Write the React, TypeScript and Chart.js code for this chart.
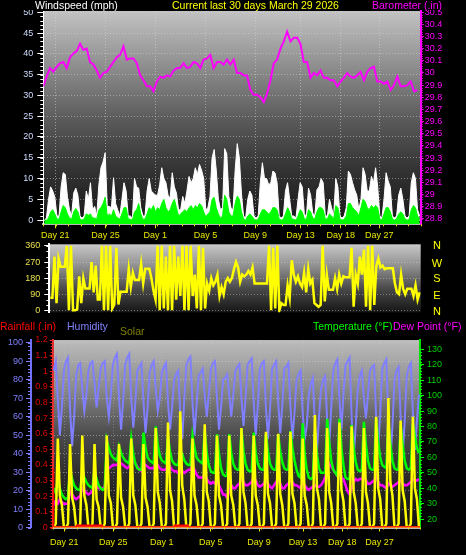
import React, { useEffect, useRef } from "react";
import { Chart, registerables } from "chart.js";

Chart.register(...registerables);

const FONT_AX = "'Liberation Sans Narrow', 'Arial Narrow', 'Liberation Sans', Arial, sans-serif";
const FONT_TXT = "'Liberation Sans', Arial, sans-serif";

// ---------- axis ticks ----------
const dayTickPositions = [0.95, 4.95, 8.9, 12.9, 16.85, 20.45, 23.65, 26.7];
const dayTickLabels = ["Day 21", "Day 25", "Day 1", "Day 5", "Day 9", "Day 13", "Day 18", "Day 27"];
const windTicks = [0, 5, 10, 15, 20, 25, 30, 35, 40, 45, 50];
const baroTicks = [28.8, 28.9, 29.0, 29.1, 29.2, 29.3, 29.4, 29.5, 29.6, 29.7, 29.8, 29.9, 30.0, 30.1, 30.2, 30.3, 30.4, 30.5];
const dirTicks = [0, 90, 180, 270, 360];
const dirLetters = ["N", "W", "S", "E", "N"];
const humTicks = [0, 10, 20, 30, 40, 50, 60, 70, 80, 90, 100];
const rainTicks = [0, 0.1, 0.2, 0.3, 0.4, 0.5, 0.6, 0.7, 0.8, 0.9, 1.0, 1.1, 1.2];
const tempTicks = [20, 30, 40, 50, 60, 70, 80, 90, 100, 110, 120, 130];

// ---------- series (30 days) ----------
const barometer = [
  29.89, 29.97, 30.04, 30.01, 30.05, 30.08, 30.09, 30.04, 30.13, 30.16,
  30.18, 30.24, 30.19, 30.20, 30.09, 30.07, 30.02, 29.96, 30.00, 30.01,
  30.05, 30.09, 30.13, 30.15, 30.22, 30.11, 30.12, 30.12, 30.08, 29.98,
  29.94, 29.89, 29.89, 29.85, 29.93, 29.97, 29.96, 29.98, 29.97, 30.02,
  30.04, 30.04, 30.08, 30.04, 30.05, 30.09, 30.08, 30.04, 30.11, 30.12,
  30.15, 30.04, 30.09, 30.09, 30.07, 30.11, 30.07, 30.11, 30.00, 30.00,
  29.98, 29.98, 29.86, 29.82, 29.82, 29.80, 29.76, 29.83, 29.94, 30.08,
  30.11, 30.20, 30.26, 30.34, 30.26, 30.29, 30.29, 30.24, 30.09, 30.09,
  29.96, 30.00, 29.98, 30.02, 29.96, 29.96, 29.94, 29.94, 29.89, 29.93,
  29.96, 30.00, 29.97, 29.96, 29.98, 30.01, 29.94, 30.01, 30.04, 30.05,
  29.93, 29.93, 29.91, 29.93, 29.86, 29.90, 29.97, 29.89, 29.89, 29.90,
  29.93, 29.85, 29.86,
];

const windGust = [
  0, 0.5, 5, 8, 7, 5.5, 1, 1, 8, 11.4,
  11, 5.7, 2.5, 1, 6.5, 7.7, 6, 1, 0.5, 1,
  7, 5, 9, 2.5, 3.3, 1, 8.5, 12.6, 14, 16.2,
  3.3, 3.3, 3, 10.2, 4, 2.5, 1, 5, 9, 7,
  1, 1, 0.5, 10, 8, 7.7, 3, 1, 1, 7,
  10, 7, 6.5, 6, 6, 8.5, 12.6, 10, 9, 6,
  5.3, 11.4, 8, 6.5, 2.5, 2.5, 5.7, 4, 7, 10.5,
  9, 10, 12.6, 11, 13.4, 12, 10, 2.5, 3, 5.7,
  15, 17, 12, 5, 2.5, 3, 17.2, 16, 5.7, 3,
  2.5, 12, 18.4, 15, 6.5, 1, 0.5, 5, 7, 6,
  1, 0.5, 1, 9, 13.8, 10, 10, 8.5, 9, 11.8,
  11.4, 9, 1, 0.5, 1, 7, 9, 5, 1, 1,
  0.5, 5, 9, 8, 1.5, 1, 7.7, 6, 1.7, 1,
  7.3, 8, 10, 9, 1, 1, 5, 3, 1, 10,
  8, 1, 0.5, 1, 3, 11.8, 11, 9, 7.3, 6,
  2.5, 5, 12.6, 11, 7, 7, 10.5, 9, 12.6, 8,
  1, 0.5, 5, 11.4, 9.4, 8, 1, 0.5, 1, 6,
  7.7, 5, 1, 0.5, 1, 9, 11.4, 10, 2.5, 1,
];

const windAvg = [
  0, 0, 0.5, 2, 2.5, 1.5, 0.3, 0.2, 2, 3.5,
  3, 1.5, 0.5, 0.2, 2, 2.8, 2, 0.2, 0, 0.3,
  1.5, 1.2, 1.5, 0.5, 0.5, 0.3, 2.5, 3, 4, 5.5,
  1, 1.5, 1, 2.5, 1, 0.5, 0.3, 1.5, 3, 3,
  0.3, 0.2, 0, 2, 2.5, 4, 1.5, 0.2, 0.3, 1.5,
  3, 2.5, 3.5, 2, 3, 2.5, 4, 5, 3, 2,
  2.5, 4, 5, 3, 1, 1.5, 2, 2.5, 2, 3,
  3.5, 2.5, 3.5, 3, 4, 3.5, 2, 0.8, 1.5, 2,
  5, 5.5, 3, 1.5, 0.5, 1, 6, 5, 2, 1,
  1, 4, 5.8, 5, 2, 0.3, 0, 1, 1.5, 1,
  0.2, 0, 0.2, 1.5, 2.5, 2.5, 2, 1.5, 2, 3,
  3, 2.5, 0.3, 0, 0.2, 1.5, 3, 2, 0.3, 0.2,
  0, 1, 2.5, 2, 0.3, 0.2, 2.5, 2, 0.5, 0.3,
  2, 3, 3, 2.5, 0.3, 0.3, 1.5, 1, 0.3, 3.5,
  3, 0.3, 0, 0.2, 1, 4, 4, 3, 2.5, 2,
  1, 3, 5, 4.5, 3, 2.5, 3.5, 3, 3.5, 3,
  0.3, 0, 1.5, 3, 3, 2, 0.3, 0, 0.3, 1.5,
  2, 1.5, 0.3, 0, 0.2, 2.5, 3.5, 3, 1, 0.3,
];

const windDirection = [
  70, 70, 300, 40, 290, 244, 244, 244, 360, 0,
  360, 0, 0, 5, 190, 40, 180, 122, 122, 122,
  270, 100, 250, 60, 60, 360, 0, 360, 0, 360,
  10, 33, 350, 33, 104, 104, 104, 104, 230, 130,
  210, 170, 170, 170, 260, 150, 233, 233, 233, 180,
  110, 60, 360, 0, 360, 10, 300, 0, 360, 0,
  360, 60, 300, 80, 360, 0, 360, 0, 360, 80,
  200, 10, 360, 0, 350, 10, 150, 110, 180, 140,
  160, 200, 80, 130, 90, 160, 180, 160, 180, 230,
  270, 240, 160, 200, 190, 200, 220, 200, 240, 150,
  150, 150, 150, 150, 150, 150, 360, 0, 350, 10,
  360, 0, 40, 30, 30, 140, 70, 280, 200, 160,
  190, 150, 130, 210, 100, 230, 150, 170, 40, 30,
  20, 30, 360, 50, 200, 115, 115, 115, 180, 120,
  200, 150, 190, 185, 185, 185, 350, 20, 200, 150,
  300, 200, 340, 20, 360, 0, 360, 30, 250, 290,
  240, 250, 230, 235, 235, 235, 235, 150, 100, 90,
  200, 120, 90, 120, 120, 120, 80, 140, 60, 100,
];

const temperature = [
  40, 37, 45, 40, 36, 34,  33, 34, 52, 46, 42, 40,  39, 39, 50, 47, 44, 42,
  41, 40, 52, 46, 42, 40,  39, 40, 71, 66, 62, 60,  59, 58, 67, 63, 60, 58,
  57, 56, 72, 62, 56, 53,  52, 52, 76, 66, 60, 58,  57, 56, 80, 68, 61, 58,
  57, 56, 73, 64, 58, 56,  55, 55, 65, 62, 58, 56,  55, 55, 74, 66, 60, 58,
  57, 56, 77, 63, 55, 51,  50, 50, 75, 62, 53, 49,  48, 48, 75, 63, 56, 53,
  52, 52, 78, 64, 56, 52,  51, 51, 76, 63, 56, 53,  52, 52, 75, 64, 56, 53,
  52, 52, 75, 64, 57, 53,  52, 52, 77, 66, 58, 52,  48, 47, 82, 62, 52, 47,
  46, 47, 76, 62, 53, 50,  50, 50, 85, 70, 58, 52,  50, 48, 85, 66, 55, 47,
  46, 46, 81, 66, 57, 52,  51, 52, 83, 68, 58, 53,  52, 52, 85, 70, 60, 55,
  54, 53, 83, 68, 58, 53,  52, 52, 81, 68, 58, 53,  52, 53, 82, 73, 66, 63,
];

const dewPoint = [
  32, 29, 30, 33, 31, 30,  30, 30, 38, 36, 34, 33,  34, 35, 40, 39, 37, 36,
  37, 38, 44, 41, 40, 40,  40, 41, 53, 53, 54, 55,  55, 55, 57, 56, 55, 54,
  53, 54, 61, 58, 56, 54,  52, 51, 56, 55, 54, 53,  53, 53, 57, 55, 53, 52,
  52, 52, 56, 54, 52, 51,  51, 50, 52, 51, 50, 51,  52, 52, 55, 52, 49, 47,
  47, 47, 49, 46, 44, 43,  44, 43, 46, 42, 39, 36,  36, 34, 38, 42, 40, 40,
  42, 43, 47, 44, 42, 42,  43, 44, 48, 45, 42, 41,  42, 43, 46, 43, 41, 40,
  42, 44, 46, 43, 40, 40,  42, 43, 45, 44, 42, 42,  41, 40, 44, 42, 40, 39,
  40, 41, 42, 41, 41, 42,  44, 47, 52, 56, 54, 52,  50, 48, 50, 47, 46, 42,
  38, 36, 40, 44, 46, 45,  46, 46, 48, 45, 43, 43,  44, 45, 48, 44, 42, 42,
  41, 40, 43, 42, 41, 42,  43, 44, 45, 43, 42, 42,  43, 44, 46, 45, 45, 46,
];

const humidity = [
  85, 90, 70, 50, 65, 85,  90, 92, 65, 44, 60, 82,  88, 89, 75, 63, 72, 85,
  89, 90, 78, 65, 75, 86,  89, 90, 70, 60, 72, 88,  92, 94, 70, 53, 68, 88,
  92, 94, 70, 54, 68, 85,  87, 89, 68, 51, 65, 84,  88, 90, 75, 63, 70, 84,
  87, 89, 68, 53, 65, 80,  83, 85, 62, 48, 70, 88,  91, 92.5, 68, 50, 66, 82,
  84, 86, 72, 60, 72, 86,  89, 90, 70, 53, 65, 80,  81, 83, 72, 60, 72, 85,
  87, 88.5, 70, 55, 70, 88,  90, 91.5, 68, 50, 66, 86,  89, 90, 65, 48, 64, 86,
  88, 90, 68, 51, 66, 86,  87, 89, 66, 48, 62, 80,  83, 85, 62, 48, 55, 72,
  78, 81, 55, 41, 60, 75,  80, 82, 58, 44, 65, 85,  89, 91, 70, 53, 72, 88,
  90, 92, 60, 37, 55, 75,  82, 85, 70, 59, 72, 85,  87, 88, 60, 42, 62, 86,
  89, 91, 58, 35, 55, 80,  85, 87, 60, 38, 58, 82,  87, 89, 62, 42, 58, 72,
];

const solar = [
  0, 20, 475, 170, 120, 0,  0, 20, 445, 160, 110, 0,  0, 20, 490, 170, 120, 0,
  0, 20, 445, 150, 110, 0,  0, 20, 490, 170, 130, 0,  0, 20, 445, 160, 110, 0,
  0, 20, 475, 170, 120, 0,  0, 20, 445, 160, 110, 0,  0, 20, 530, 190, 130, 0,
  0, 20, 560, 200, 140, 0,  0, 20, 620, 220, 150, 0,  0, 20, 475, 170, 120, 0,
  0, 20, 550, 190, 140, 0,  0, 20, 490, 170, 120, 0,  0, 20, 490, 170, 120, 0,
  0, 20, 530, 190, 130, 0,  0, 20, 490, 170, 120, 0,  0, 20, 510, 180, 130, 0,
  0, 20, 500, 180, 120, 0,  0, 20, 510, 180, 130, 0,  0, 20, 475, 170, 120, 0,
  0, 20, 600, 210, 150, 0,  0, 20, 530, 190, 130, 0,  0, 20, 560, 200, 140, 0,
  0, 20, 540, 190, 130, 0,  0, 20, 530, 190, 130, 0,  0, 20, 590, 210, 150, 0,
  0, 20, 690, 240, 170, 0,  0, 20, 570, 200, 140, 0,  0, 20, 590, 210, 150, 0,
];

const rainfall = [
  0.38, 0, 0, 0.01, 0.01, 0, 0, 0, 0, 0, 0, 0.01, 0, 0, 0, 0,
  0, 0, 0, 0, 0, 0, 0, 0, 0, 0, 0, 0, 0, 0, 0,
];
const rainRate = [
  0, 0, 0, 0, 0, 0, 0, 0, 0, 0, 0, 0, 0, 0, 0, 0,
  0, 0, 0, 0, 0, 0, 0, 0, 0, 0, 0, 0, 0, 0, 0,
];

// ---------- helpers ----------
const sixPerDay = (i: number) => (i + 0.5) / 6;
const pts = (arr: number[], xf: (i: number) => number) => arr.map((v, i) => ({ x: xf(i), y: v }));

function plotBackground(stops: [number, string][]) {
  return {
    id: "plotBg",
    beforeDraw(chart: any) {
      const { ctx, chartArea: a } = chart;
      if (!a) return;
      const g = ctx.createLinearGradient(0, a.top, 0, a.bottom);
      stops.forEach(([o, c]) => g.addColorStop(o, c));
      ctx.save();
      ctx.fillStyle = g;
      ctx.fillRect(a.left, a.top, a.right - a.left, a.bottom - a.top);
      ctx.restore();
    },
  };
}

type Minor = { scale: string; from: number; to: number; step: number; len: number; color: string };
function minorTicks(list: Minor[]) {
  return {
    id: "minorTicks",
    afterDraw(chart: any) {
      const ctx = chart.ctx;
      ctx.save();
      ctx.lineWidth = 1;
      for (const m of list) {
        const s = chart.scales[m.scale];
        if (!s) continue;
        ctx.strokeStyle = m.color;
        ctx.beginPath();
        const n = Math.round((m.to - m.from) / m.step);
        for (let k = 0; k <= n; k++) {
          const p = Math.round(s.getPixelForValue(m.from + k * m.step)) + 0.5;
          if (s.isHorizontal()) {
            ctx.moveTo(p, s.top);
            ctx.lineTo(p, s.top + m.len);
          } else if (s.position === "left") {
            ctx.moveTo(s.right - m.len, p);
            ctx.lineTo(s.right, p);
          } else {
            ctx.moveTo(s.left, p);
            ctx.lineTo(s.left + m.len, p);
          }
        }
        ctx.stroke();
      }
      ctx.restore();
    },
  };
}

const axFont = { family: FONT_AX, size: 9 };
const dotted = [1, 2];
const fix = (v: number) => String(Number(v.toFixed(2)));

function noPad(s: any) {
  s.paddingTop = 0;
  s.paddingBottom = 0;
  s.paddingLeft = 0;
  s.paddingRight = 0;
}

const fixedTicks = (values: number[]) => (s: any) => {
  s.ticks = values.map((v) => ({ value: v }));
};

const dayAxis = (height: number, padding: number, gridColor: string) => ({
  type: "linear",
  min: 0,
  max: 30,
  afterBuildTicks: fixedTicks(dayTickPositions),
  afterFit: (s: any) => {
    s.height = height;
    noPad(s);
  },
  ticks: {
    callback: (_v: any, i: number) => dayTickLabels[i],
    color: "#e6e600",
    font: axFont,
    maxRotation: 0,
    autoSkip: false,
    padding,
  },
  grid: { color: gridColor, lineWidth: 1, tickColor: "#e6e600", tickLength: 4, borderDash: dotted },
  border: { display: true, color: "#b8b8b8", width: 2, dash: dotted },
});

function topConfig(): any {
  return {
    type: "line",
    data: {
      datasets: [
        {
          label: "Wind gust",
          data: pts(windGust, sixPerDay),
          borderColor: "#ffffff",
          backgroundColor: "#ffffff",
          borderWidth: 1,
          fill: "origin",
          yAxisID: "yWind",
          order: 3,
        },
        {
          label: "Wind average",
          data: pts(windAvg, sixPerDay),
          borderColor: "#00ff00",
          backgroundColor: "#00ff00",
          borderWidth: 1,
          fill: "start",
          yAxisID: "yWind",
          order: 2,
        },
        {
          label: "Barometer",
          data: pts(barometer, (i) => (i * 30) / barometer.length),
          borderColor: "#ff00ff",
          borderWidth: 2,
          fill: false,
          yAxisID: "yBaro",
          order: 1,
        },
      ],
    },
    options: {
      responsive: false,
      animation: false,
      events: [],
      elements: { point: { radius: 0 }, line: { tension: 0 } },
      layout: { padding: { top: 1, left: 0, right: 0, bottom: 0 } },
      plugins: { legend: { display: false }, tooltip: { enabled: false } },
      scales: {
        x: dayAxis(20.7, 2, "rgba(215,215,215,0.55)"),
        yWind: {
          type: "linear",
          position: "left",
          min: -1,
          max: 50.3,
          afterBuildTicks: fixedTicks(windTicks),
          afterFit: (s: any) => {
            s.width = 43.3;
            noPad(s);
          },
          ticks: { color: "#cfdcff", font: axFont, padding: 4, autoSkip: false },
          grid: {
            color: (c: any) => (c.tick && c.tick.value === 0 ? "#c8c8c8" : "rgba(215,215,215,0.5)"),
            lineWidth: 1,
            tickColor: "#ffffff",
            tickLength: 6,
          },
          border: { display: true, color: "#ffffff", width: 1, dash: dotted },
        },
        yBaro: {
          type: "linear",
          position: "right",
          min: 28.755,
          max: 30.51,
          afterBuildTicks: fixedTicks(baroTicks),
          afterFit: (s: any) => {
            s.width = 45.3;
            noPad(s);
          },
          ticks: { color: "#ff00ff", font: axFont, padding: 1, autoSkip: false, callback: (v: number) => fix(v) },
          grid: { drawOnChartArea: false, tickColor: "#ff00ff", tickLength: 3 },
          border: { display: true, color: "#ff00ff", width: 2 },
        },
      },
    },
    plugins: [
      plotBackground([
        [0, "#c2c2c2"],
        [0.25, "#909090"],
        [0.5, "#5c5c5c"],
        [0.75, "#323232"],
        [1, "#181818"],
      ]),
      minorTicks([
        { scale: "yWind", from: 0, to: 50, step: 1, len: 3, color: "#ffffff" },
        { scale: "yBaro", from: 28.8, to: 30.5, step: 0.02, len: 2, color: "#ff00ff" },
        { scale: "x", from: 0, to: 30, step: 1, len: 2, color: "#e6e600" },
      ]),
    ],
  };
}

function midConfig(): any {
  return {
    type: "line",
    data: {
      datasets: [
        {
          label: "Wind direction",
          data: pts(windDirection, sixPerDay),
          borderColor: "#ffff00",
          borderWidth: 2.5,
          fill: false,
          yAxisID: "y",
        },
      ],
    },
    options: {
      responsive: false,
      animation: false,
      events: [],
      elements: { point: { radius: 0 }, line: { tension: 0 } },
      layout: { padding: { top: 6.3, bottom: 5.7, left: 0, right: 45.3 } },
      plugins: { legend: { display: false }, tooltip: { enabled: false } },
      scales: {
        x: { type: "linear", min: 0, max: 30, display: false },
        y: {
          type: "linear",
          position: "left",
          min: -11,
          max: 369,
          afterBuildTicks: fixedTicks(dirTicks),
          afterFit: (s: any) => {
            s.width = 49.3;
            noPad(s);
          },
          ticks: { color: "#e8e050", font: axFont, padding: 4, autoSkip: false },
          grid: { color: "rgba(215,215,215,0.45)", tickColor: "#ffffff", tickLength: 5 },
          border: { display: true, color: "#ffffff", width: 2, dash: dotted },
        },
      },
    },
    plugins: [
      plotBackground([
        [0, "#c8c8c8"],
        [0.35, "#8a8a8a"],
        [0.65, "#4a4a4a"],
        [1, "#161616"],
      ]),
      minorTicks([{ scale: "y", from: 0, to: 360, step: 30, len: 3, color: "#ffffff" }]),
    ],
  };
}

function botConfig(): any {
  return {
    type: "line",
    data: {
      datasets: [
        {
          label: "Humidity",
          data: pts(humidity, sixPerDay),
          borderColor: "#7f7fff",
          borderWidth: 2,
          fill: false,
          yAxisID: "yHum",
          order: 6,
        },
        {
          label: "Dew Point",
          data: pts(dewPoint, sixPerDay),
          borderColor: "#ff00ff",
          borderWidth: 2.5,
          fill: false,
          yAxisID: "yTemp",
          order: 5,
        },
        {
          label: "Temperature",
          data: pts(temperature, sixPerDay),
          borderColor: "#00ff00",
          borderWidth: 2.5,
          fill: false,
          yAxisID: "yTemp",
          order: 4,
        },
        {
          label: "Solar",
          data: pts(solar, sixPerDay),
          borderColor: "#ffff00",
          borderWidth: 2.5,
          fill: false,
          yAxisID: "ySolar",
          order: 3,
        },
        {
          label: "Rainfall",
          data: pts(rainfall, (i) => i),
          borderColor: "#ff0000",
          borderWidth: 3,
          stepped: "after",
          fill: false,
          yAxisID: "yRain",
          order: 2,
        },
        {
          label: "Rain rate",
          data: pts(rainRate, (i) => i),
          borderColor: "#ff9900",
          borderWidth: 1.5,
          fill: false,
          yAxisID: "yRain",
          order: 1,
        },
      ],
    },
    options: {
      responsive: false,
      animation: false,
      events: [],
      elements: { point: { radius: 0 }, line: { tension: 0 } },
      layout: { padding: { top: 6, bottom: 0, left: 0, right: 0 } },
      plugins: { legend: { display: false }, tooltip: { enabled: false } },
      scales: {
        x: dayAxis(27.5, 6, "rgba(200,200,200,0.35)"),
        yHum: {
          type: "linear",
          position: "left",
          weight: 1,
          min: 0,
          max: 101.5,
          afterBuildTicks: fixedTicks(humTicks),
          afterFit: (s: any) => {
            s.width = 31;
            noPad(s);
          },
          ticks: { color: "#8080ff", font: axFont, padding: 3, autoSkip: false },
          grid: { color: "rgba(215,215,215,0.5)", tickColor: "#8080ff", tickLength: 5 },
          border: { display: true, color: "#7070ff", width: 2, dash: dotted },
        },
        yRain: {
          type: "linear",
          position: "left",
          weight: 0,
          min: 0,
          max: 1.2,
          afterBuildTicks: fixedTicks(rainTicks),
          afterFit: (s: any) => {
            s.width = 21.7;
            noPad(s);
          },
          ticks: { color: "#e00000", font: axFont, padding: 2, autoSkip: false, callback: (v: number) => fix(v) },
          grid: { drawOnChartArea: false, tickColor: "#ff2020", tickLength: 3 },
          border: { display: true, color: "#e03030", width: 2 },
        },
        yTemp: {
          type: "linear",
          position: "right",
          min: 14.6,
          max: 136,
          afterBuildTicks: fixedTicks(tempTicks),
          afterFit: (s: any) => {
            s.width = 46;
            noPad(s);
          },
          ticks: { color: "#00d000", font: axFont, padding: 3, autoSkip: false },
          grid: { drawOnChartArea: false, tickColor: "#00ff00", tickLength: 4 },
          border: { display: true, color: "#00e000", width: 2 },
        },
        ySolar: { type: "linear", display: false, min: 0, max: 1000 },
      },
    },
    plugins: [
      plotBackground([
        [0, "#bcbcbc"],
        [0.25, "#8c8c8c"],
        [0.5, "#4c4c4c"],
        [0.75, "#282828"],
        [1, "#121212"],
      ]),
      minorTicks([
        { scale: "yHum", from: 0, to: 100, step: 2, len: 3, color: "#8080ff" },
        { scale: "yRain", from: 0, to: 1.2, step: 0.02, len: 2, color: "#ff2020" },
        { scale: "yTemp", from: 20, to: 130, step: 2, len: 2, color: "#00ff00" },
        { scale: "x", from: 0, to: 30, step: 1, len: 2, color: "#e6e600" },
      ]),
    ],
  };
}

function Label(props: { x: number; y: number; color: string; size?: number; text: string }) {
  const size = props.size || 10.5;
  return (
    <div
      style={{
        position: "absolute",
        left: props.x,
        top: props.y,
        color: props.color,
        fontFamily: FONT_TXT,
        fontSize: size,
        lineHeight: "12px",
        whiteSpace: "nowrap",
      }}
    >
      {props.text}
    </div>
  );
}

export default function App() {
  const topRef = useRef<HTMLCanvasElement>(null);
  const midRef = useRef<HTMLCanvasElement>(null);
  const botRef = useRef<HTMLCanvasElement>(null);

  useEffect(() => {
    const charts = [
      new Chart(topRef.current as HTMLCanvasElement, topConfig()),
      new Chart(midRef.current as HTMLCanvasElement, midConfig()),
      new Chart(botRef.current as HTMLCanvasElement, botConfig()),
    ];
    return () => charts.forEach((c) => c.destroy());
  }, []);

  const dirCenters = [245, 262.7, 278.3, 295, 311];

  return (
    <div
      style={{
        position: "absolute",
        left: 0,
        top: 0,
        width: 466,
        height: 555,
        background: "#000",
        overflow: "hidden",
      }}
    >
      <canvas ref={topRef} width={466} height={235} style={{ position: "absolute", left: 0, top: 10, width: 466, height: 235 }} />
      <canvas ref={midRef} width={466} height={80} style={{ position: "absolute", left: 0, top: 238, width: 466, height: 80 }} />
      <canvas ref={botRef} width={466} height={221} style={{ position: "absolute", left: 0, top: 334, width: 466, height: 221 }} />

      <Label x={35} y={-1.5} color="#ffffff" text="Windspeed (mph)" />
      <Label x={172} y={-1.5} color="#ffff00" text="Current last 30 days March 29 2026" />
      <Label x={372} y={-1.5} color="#ff00ff" text="Barometer (.in)" />

      {dirLetters.map((l, i) => (
        <div
          key={i}
          style={{
            position: "absolute",
            left: 430,
            width: 14,
            top: dirCenters[i] - 6,
            textAlign: "center",
            color: "#ffff00",
            fontFamily: FONT_TXT,
            fontSize: 11,
            lineHeight: "12px",
          }}
        >
          {l}
        </div>
      ))}

      <Label x={0} y={320.2} color="#ff0000" text="Rainfall (.in)" />
      <Label x={67} y={320.2} color="#8080ff" text="Humidity" />
      <Label x={120} y={325.2} color="#808000" text="Solar" />
      <Label x={313} y={320.2} color="#00ff00" text="Temperature (°F)" />
      <Label x={393} y={320.2} color="#ff00ff" text="Dew Point (°F)" />
    </div>
  );
}
